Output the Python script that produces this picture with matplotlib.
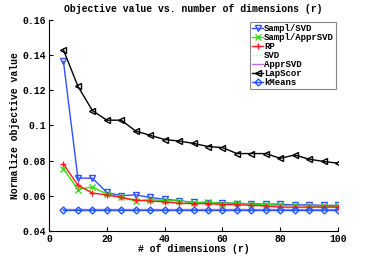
import matplotlib
matplotlib.use('Agg')
import matplotlib.pyplot as plt

plt.rcParams['font.family'] = ['Liberation Mono', 'DejaVu Sans Mono']
plt.rcParams['font.weight'] = 'bold'

dims = [5, 10, 15, 20, 25, 30, 35, 40, 45, 50, 55, 60, 65, 70, 75, 80, 85, 90, 95, 100]

sampl_svd = [0.1364, 0.0700, 0.0700, 0.0619, 0.0600, 0.0605, 0.0590, 0.0580, 0.0572, 0.0562,
             0.0560, 0.0560, 0.0555, 0.0555, 0.0552, 0.0552, 0.0548, 0.0548, 0.0545, 0.0545]
sampl_apprsvd = [0.0755, 0.0635, 0.0650, 0.0610, 0.0590, 0.0570, 0.0578, 0.0572, 0.0570, 0.0560,
                 0.0565, 0.0555, 0.0560, 0.0552, 0.0550, 0.0545, 0.0545, 0.0542, 0.0540, 0.0540]
rp = [0.0780, 0.0660, 0.0615, 0.0605, 0.0590, 0.0575, 0.0570, 0.0565, 0.0557, 0.0555,
      0.0555, 0.0550, 0.0550, 0.0545, 0.0542, 0.0535, 0.0535, 0.0535, 0.0535, 0.0535]
svd = [0.0522] * 20
apprsvd = [0.0523] * 20
lapscor = [0.1430, 0.1223, 0.1085, 0.1030, 0.1030, 0.0968, 0.0944, 0.0920, 0.0911, 0.0898,
           0.0880, 0.0874, 0.0840, 0.0840, 0.0840, 0.0813, 0.0832, 0.0808, 0.0795, 0.0785]
kmeans = [0.0520] * 20

fig = plt.figure(figsize=(3.74, 2.6), dpi=100)
ax = fig.add_axes([0.131, 0.112, 0.773, 0.811])

ms = 4.5
ax.plot(dims, sampl_svd, color='#3050ff', marker='v', mfc='none', ms=ms, lw=1, label='Sampl/SVD')
ax.plot(dims, sampl_apprsvd, color='#33dd11', marker='x', ms=ms - 0.5, lw=1, label='Sampl/ApprSVD')
ax.plot(dims, rp, color='#ff1a1a', marker='+', ms=ms + 0.5, lw=1, label='RP')
ax.plot(dims, svd, color='#aaf0e8', ls=':', lw=1, label='SVD')
ax.plot(dims, apprsvd, color='#cc66ee', lw=1, label='ApprSVD')
ax.plot(dims, lapscor, color='black', marker='<', mfc='none', ms=ms, lw=1, label='LapScor')
ax.plot(dims, kmeans, color='#2255ff', marker='D', mfc='none', ms=3.5, lw=1, label='kMeans')

ax.set_xlim(0, 100)
ax.set_ylim(0.04, 0.16)
ax.set_xticks([0, 20, 40, 60, 80, 100])
ax.set_yticks([0.04, 0.06, 0.08, 0.1, 0.12, 0.14, 0.16])
ax.set_yticklabels(['0.04', '0.06', '0.08', '0.1', '0.12', '0.14', '0.16'])
ax.spines['top'].set_visible(False)
ax.spines['right'].set_visible(False)
ax.tick_params(direction='in', labelsize=7, length=3, pad=2)

ax.set_title('Objective value vs. number of dimensions (r)', fontsize=7, fontweight='bold', pad=6)
ax.set_xlabel('# of dimensions (r)', fontsize=7, fontweight='bold', labelpad=0)
ax.set_ylabel('Normalize objective value', fontsize=7, fontweight='bold', labelpad=2)

leg = ax.legend(loc='upper right', bbox_to_anchor=(1.0, 1.0), fontsize=6.5, handlelength=1.2,
                handletextpad=0.1, labelspacing=0.0, borderpad=0.25, fancybox=False,
                framealpha=1, borderaxespad=0.2)
leg.get_frame().set_edgecolor('#888888')
leg.get_frame().set_linewidth(0.8)

fig.savefig('out.png', dpi=100)
